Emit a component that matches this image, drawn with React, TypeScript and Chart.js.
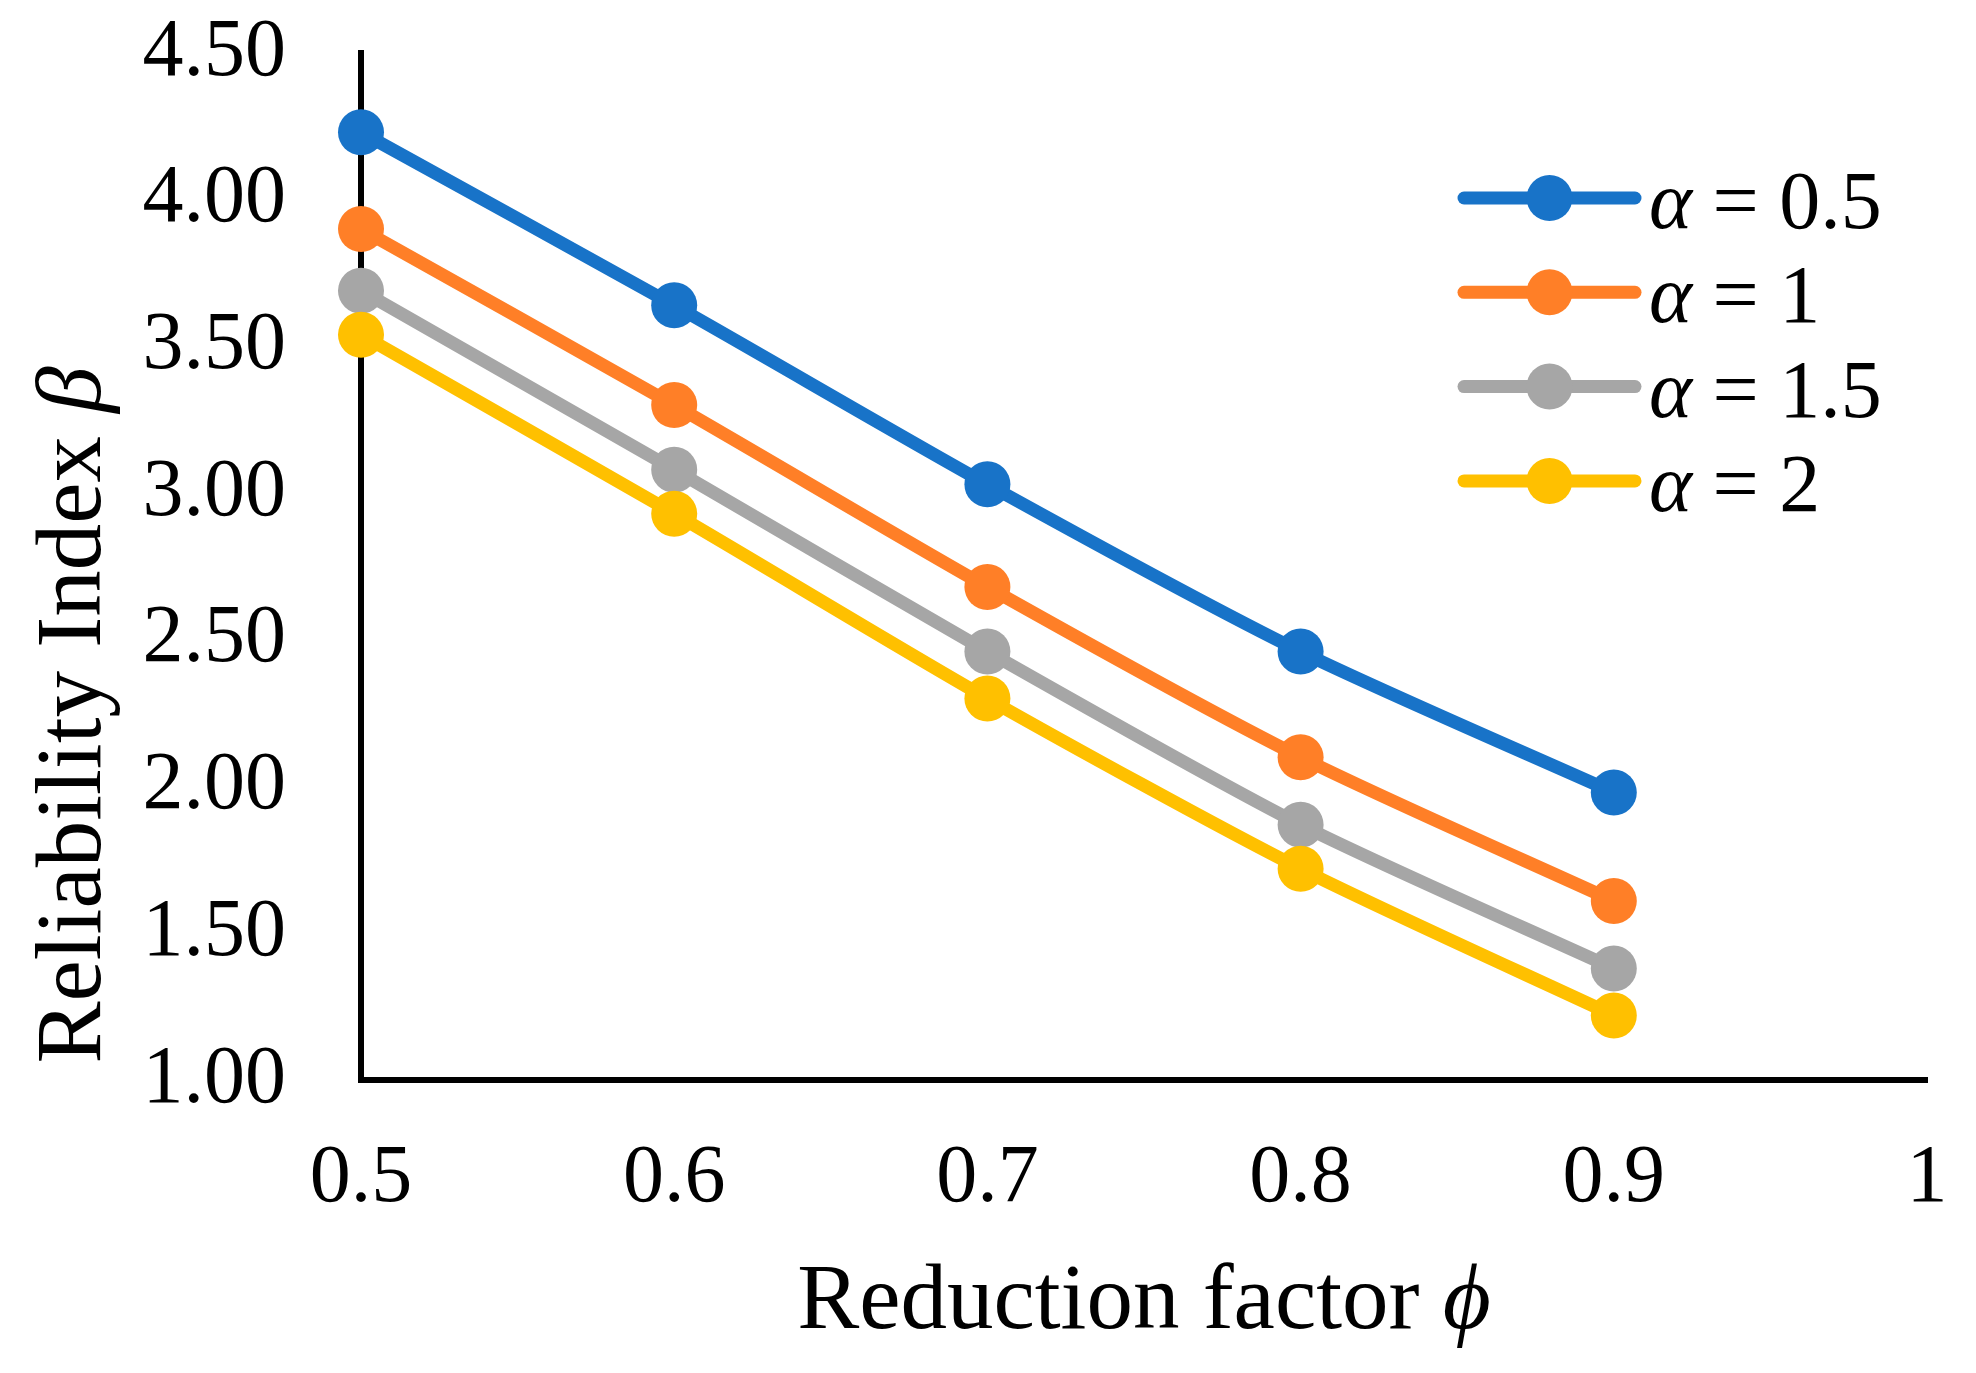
import React, { useEffect, useRef } from 'react';
import { Chart, registerables } from 'chart.js';

Chart.register(...registerables);

// ---- data ----
const phiValues = [0.5, 0.6, 0.7, 0.8, 0.9];
const alphaLabels = ['0.5', '1', '1.5', '2'];
const betaAlpha05 = [4.23, 3.64, 3.03, 2.46, 1.98];
const betaAlpha1 = [3.9, 3.3, 2.68, 2.1, 1.61];
const betaAlpha15 = [3.69, 3.08, 2.46, 1.87, 1.38];
const betaAlpha2 = [3.54, 2.93, 2.3, 1.72, 1.22];
const xTickLabels = ['0.5', '0.6', '0.7', '0.8', '0.9', '1'];
const yTickLabels = ['1.00', '1.50', '2.00', '2.50', '3.00', '3.50', '4.00', '4.50'];
const xTitle = 'Reduction factor ';
const xTitleSymbol = '\u03D5';
const yTitle = 'Reliability Index ';
const yTitleSymbol = '\u03B2';

const seriesValues = [betaAlpha05, betaAlpha1, betaAlpha15, betaAlpha2];
const seriesColors = ['#1873C8', '#FF7F27', '#A6A6A6', '#FFC000'];

const FONT = "'Liberation Serif', 'Times New Roman', serif";

const customText = {
  id: 'customText',
  afterDraw(chart: any) {
    const ctx = chart.ctx as CanvasRenderingContext2D;
    const area = chart.chartArea;
    ctx.save();
    ctx.fillStyle = '#000';
    ctx.textBaseline = 'alphabetic';
    ctx.textAlign = 'left';

    // x axis title
    const reg = `93px ${FONT}`;
    const ita = `italic 93px ${FONT}`;
    ctx.font = reg;
    const w1 = ctx.measureText(xTitle).width;
    ctx.font = ita;
    const w2 = ctx.measureText(xTitleSymbol).width;
    const cx = (area.left + area.right) / 2;
    const by = area.bottom + 248;
    ctx.font = reg;
    ctx.fillText(xTitle, cx - (w1 + w2) / 2, by);
    ctx.font = ita;
    ctx.fillText(xTitleSymbol, cx - (w1 + w2) / 2 + w1, by);

    // y axis title
    ctx.font = reg;
    const v1 = ctx.measureText(yTitle).width;
    ctx.font = ita;
    const v2 = ctx.measureText(yTitleSymbol).width;
    ctx.save();
    ctx.translate(100, area.top + 662);
    ctx.rotate(-Math.PI / 2);
    ctx.font = reg;
    ctx.fillText(yTitle, -(v1 + v2) / 2, 0);
    ctx.font = ita;
    ctx.fillText(yTitleSymbol, -(v1 + v2) / 2 + v1, 0);
    ctx.restore();

    // legend
    const lx0 = area.right - 463;
    const lx1 = area.right - 292;
    const mx = (lx0 + lx1) / 2;
    const rowY0 = area.top + 145;
    const rowGap = 94.3;
    chart.data.datasets.forEach((ds: any, i: number) => {
      const y = rowY0 + i * rowGap;
      ctx.strokeStyle = ds.borderColor;
      ctx.lineWidth = 13;
      ctx.lineCap = 'round';
      ctx.beginPath();
      ctx.moveTo(lx0, y);
      ctx.lineTo(lx1, y);
      ctx.stroke();
      ctx.fillStyle = ds.borderColor;
      ctx.beginPath();
      ctx.arc(mx, y, 23, 0, Math.PI * 2);
      ctx.fill();
      ctx.fillStyle = '#000';
      const tx = lx1 + 14;
      ctx.font = `italic 82px ${FONT}`;
      ctx.fillText('\u03B1', tx, y + 30);
      const aw = ctx.measureText('\u03B1').width;
      ctx.font = `82px ${FONT}`;
      ctx.fillText(' = ' + alphaLabels[i], tx + aw, y + 30);
    });
    ctx.restore();
  },
};

export default function App() {
  const ref = useRef<HTMLCanvasElement | null>(null);

  useEffect(() => {
    if (!ref.current) return;
    const chart = new Chart(ref.current, {
      type: 'line',
      data: {
        datasets: seriesValues.map((vals, i) => ({
          label: '\u03B1 = ' + alphaLabels[i],
          data: phiValues.map((x, j) => ({ x, y: vals[j] })),
          borderColor: seriesColors[i],
          backgroundColor: seriesColors[i],
          pointBackgroundColor: seriesColors[i],
          pointBorderWidth: 0,
          pointRadius: 23,
          pointHoverRadius: 23,
          borderWidth: 13,
          tension: 0.25,
          fill: false,
          clip: false as any,
          order: seriesValues.length - i,
        })),
      },
      plugins: [customText],
      options: {
        animation: false,
        responsive: true,
        maintainAspectRatio: false,
        layout: { padding: { left: 0, right: 49, top: 53, bottom: 0 } },
        plugins: {
          legend: { display: false },
          tooltip: { enabled: false },
        },
        scales: {
          x: {
            type: 'linear',
            min: 0.5,
            max: 1,
            ticks: {
              stepSize: 0.1,
              padding: 50,
              color: '#000',
              font: { family: FONT, size: 82 },
              callback: (v: any, idx: number) => xTickLabels[idx] ?? String(v),
            },
            grid: { display: false, drawTicks: false },
            border: { display: true, color: '#000', width: 6 },
            afterFit: (scale: any) => {
              scale.height = 293;
              scale.paddingLeft = 0;
              scale.paddingRight = 0;
              scale.paddingTop = 0;
              scale.paddingBottom = 0;
            },
          },
          y: {
            type: 'linear',
            min: 1,
            max: 4.5,
            ticks: {
              stepSize: 0.5,
              padding: 75,
              color: '#000',
              font: { family: FONT, size: 82 },
              callback: (v: any, idx: number) => yTickLabels[idx] ?? String(v),
            },
            grid: { display: false, drawTicks: false },
            border: { display: true, color: '#000', width: 6 },
            afterFit: (scale: any) => {
              scale.width = 361;
              scale.paddingLeft = 0;
              scale.paddingRight = 0;
              scale.paddingTop = 0;
              scale.paddingBottom = 0;
            },
          },
        },
      },
    });
    return () => chart.destroy();
  }, []);

  return (
    <div style={{ position: 'fixed', left: 0, top: 0, width: 1976, height: 1373, background: '#fff' }}>
      <canvas ref={ref} />
    </div>
  );
}
